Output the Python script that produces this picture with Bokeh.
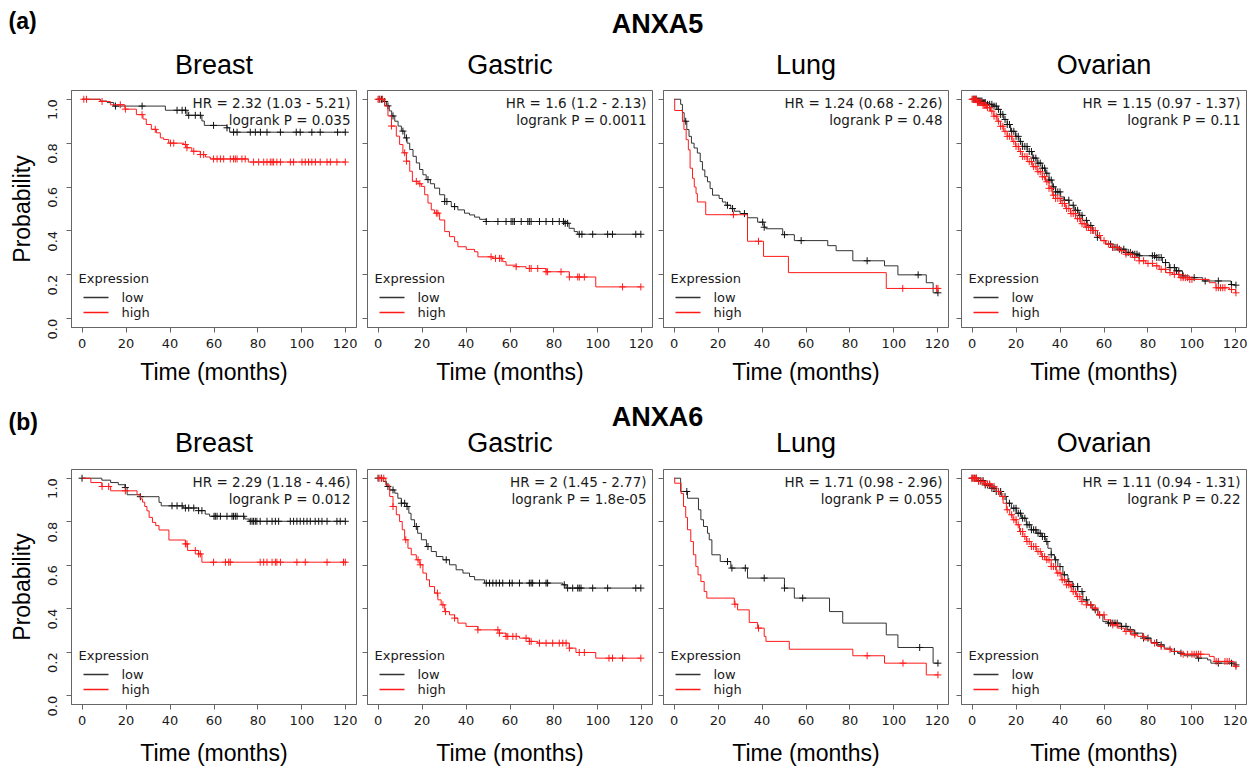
import math
import numpy as np
from bokeh.plotting import figure
from bokeh.layouts import column, row
from bokeh.models import (Range1d, FixedTicker, Label, NumeralTickFormatter, CustomJSTickFormatter)
from bokeh.core.properties import value
from bokeh.embed import file_html
from bokeh.resources import INLINE

# ---------------- text ----------------
TISSUES = ["Breast", "Gastric", "Lung", "Ovarian"]
GENES = ["ANXA5", "ANXA6"]
TAGS = ["(a)", "(b)"]
X_TICKS = [0, 20, 40, 60, 80, 100, 120]
Y_TICKS = [0.0, 0.2, 0.4, 0.6, 0.8, 1.0]
LEGEND_TITLE = "Expression"
GROUPS = ["low", "high"]
HR_A = ["HR = 2.32 (1.03 - 5.21)", "HR = 1.6 (1.2 - 2.13)", "HR = 1.24 (0.68 - 2.26)", "HR = 1.15 (0.97 - 1.37)"]
P_A = ["logrank P = 0.035", "logrank P = 0.0011", "logrank P = 0.48", "logrank P = 0.11"]
HR_B = ["HR = 2.29 (1.18 - 4.46)", "HR = 2 (1.45 - 2.77)", "HR = 1.71 (0.98 - 2.96)", "HR = 1.11 (0.94 - 1.31)"]
P_B = ["logrank P = 0.012", "logrank P = 1.8e-05", "logrank P = 0.055", "logrank P = 0.22"]

# ---------------- ANXA5 / Breast ----------------
A_BREAST_LOW_T = [0, 8.3, 11.4, 14.4, 37.9, 47.7, 54.5, 55.6, 65.9, 67.1]
A_BREAST_LOW_S = [1.0, 0.992, 0.985, 0.969, 0.95, 0.927, 0.901, 0.881, 0.87, 0.85]
A_BREAST_LOW_C = [15.2, 27.3, 43.2, 45.5, 47, 48.5, 51.5, 53.8, 59.8, 65.9, 68.9, 70.5, 76.5, 78.8, 81.1, 84.1,
                  90.2, 97.4, 99.2, 104.5, 108.3, 116.2, 119.7]
A_BREAST_HIGH_T = [0, 8.3, 12.9, 19.5, 24.7, 27.7, 29.2, 31.5, 33.8, 35.6, 37.1, 39.4, 46.2, 47.7, 49.9, 53.8,
                   56.1, 58.3, 75.6]
A_BREAST_HIGH_S = [1.0, 0.99, 0.975, 0.955, 0.93, 0.91, 0.885, 0.863, 0.847, 0.824, 0.817, 0.80, 0.794, 0.779,
                   0.763, 0.748, 0.737, 0.728, 0.714]
A_BREAST_HIGH_C = [0.8, 2.0, 9.1, 17.4, 19.7, 27.3, 33.3, 40.2, 41.7, 47.0, 47.7, 50.8, 53.8, 55.3, 59.8, 61.4,
                   62.9, 64.4, 67.4, 68.9, 69.7, 70.5, 72.7, 74.2, 78.0, 80.3, 82.6, 84.1, 85.6, 86.4, 87.1, 88.6,
                   90.2, 94.7, 96.2, 100, 101.5, 103, 104.5, 106.1, 108.3, 111.4, 112.9, 115.9, 119.7]

# ---------------- ANXA5 / Gastric ----------------
A_GASTRIC_LOW_T = [0, 2.3, 3.8, 5.1, 6.2, 7.6, 9.1, 10.6, 12.1, 13.2, 14.4, 15.9, 17.4, 18.9, 20.4, 21.9, 23.8,
                   25.7, 28.0, 30.3, 33.3, 36.3, 39.3, 41.6, 43.9, 46.2, 49.2, 84.5, 86.9, 89.2, 90.8]
A_GASTRIC_LOW_S = [1.0, 0.99, 0.97, 0.947, 0.924, 0.90, 0.878, 0.855, 0.824, 0.80, 0.771, 0.74, 0.71, 0.68,
                   0.656, 0.634, 0.615, 0.595, 0.565, 0.534, 0.511, 0.496, 0.481, 0.473, 0.463, 0.453, 0.443,
                   0.435, 0.412, 0.397, 0.385]
A_GASTRIC_LOW_C = [0.5, 1.5, 3.0, 4.5, 6.8, 11.3, 12.9, 22.7, 30.3, 31.3, 34.8, 49.2, 54.5, 58.2, 60.5, 61.3,
                   62.0, 65.1, 68.1, 68.8, 69.6, 73.4, 76.4, 79.4, 82.4, 84.3, 85.1, 86.2, 91.5, 92.7, 97.6,
                   104.4, 106.6, 117.2, 119.5]
A_GASTRIC_HIGH_T = [0, 3.0, 4.5, 6.1, 8.3, 9.8, 11.3, 12.9, 14.4, 15.6, 18.2, 19.7, 21.2, 22.7, 24.2, 25.7,
                    28.0, 30.3, 32.5, 34.8, 36.3, 40.1, 43.9, 45.4, 52.2, 56.7, 58.2, 62.8, 67.3, 76.4, 87.0, 99.0]
A_GASTRIC_HIGH_S = [1.0, 0.97, 0.924, 0.878, 0.832, 0.794, 0.756, 0.718, 0.672, 0.626, 0.615, 0.603, 0.565,
                    0.527, 0.496, 0.481, 0.45, 0.397, 0.374, 0.351, 0.328, 0.316, 0.305, 0.282, 0.275, 0.26,
                    0.244, 0.237, 0.229, 0.214, 0.19, 0.145]
A_GASTRIC_HIGH_C = [0.0, 0.8, 2.0, 6.1, 12.1, 12.9, 17.4, 19.0, 26.5, 27.2, 51.4, 53.4, 55.2, 56.0, 62.8, 68.8,
                    69.6, 72.6, 76.4, 77.1, 83.2, 87.0, 90.8, 91.5, 93.8, 111.2, 119.5]

# ---------------- ANXA5 / Lung ----------------
A_LUNG_LOW_T = [0, 3.0, 3.8, 4.6, 5.8, 6.8, 7.9, 9.1, 10.6, 11.9, 12.9, 14.0, 15.2, 16.4, 17.5, 20.5, 22.0,
                23.6, 25.8, 27.4, 30.0, 33.4, 38.0, 41.0, 41.8, 49.4, 54.7, 69.9, 73.7, 81.3, 95.7, 101.8,
                114.7, 117.8]
A_LUNG_LOW_S = [1.0, 0.977, 0.939, 0.90, 0.862, 0.831, 0.80, 0.778, 0.755, 0.716, 0.678, 0.647, 0.624, 0.593,
                0.563, 0.548, 0.532, 0.517, 0.502, 0.49, 0.479, 0.46, 0.44, 0.417, 0.41, 0.383, 0.356, 0.333,
                0.31, 0.264, 0.241, 0.20, 0.164, 0.118]
A_LUNG_LOW_C = [5.3, 24.3, 26.6, 32.0, 40.3, 41.0, 50.2, 57.8, 87.8, 111.0, 120.0]
A_LUNG_HIGH_T = [0, 0.3, 3.8, 4.5, 5.5, 6.5, 7.3, 8.4, 9.2, 10.0, 10.6, 14.4, 33.4, 40.7, 52.0, 96.5]
A_LUNG_HIGH_S = [1.0, 0.949, 0.90, 0.862, 0.816, 0.77, 0.686, 0.64, 0.60, 0.57, 0.532, 0.474, 0.353, 0.284,
                 0.21, 0.138]
A_LUNG_HIGH_C = [27.0, 38.4, 104.0, 119.3, 120.0]

# ---------------- ANXA5 / Ovarian ----------------
A_OVARIAN_LOW_T = [0, 2.3, 4.6, 6.8, 9.1, 11.4, 12.9, 14.4, 16.0, 17.5, 19.8, 21.3, 22.8, 25.1, 27.4, 29.6,
                   31.9, 33.4, 35.0, 36.5, 38.0, 40.3, 41.8, 44.1, 46.4, 48.6, 50.2, 52.4, 54.7, 57.0, 58.5,
                   60.8, 63.8, 66.9, 69.9, 72.9, 76.0, 83.6, 86.6, 89.7, 92.7, 95.7, 98.8, 104.9, 117.8, 119.3]
A_OVARIAN_LOW_S = [1.0, 0.992, 0.985, 0.977, 0.969, 0.954, 0.931, 0.908, 0.885, 0.854, 0.831, 0.808, 0.785,
                   0.762, 0.732, 0.709, 0.686, 0.663, 0.632, 0.601, 0.578, 0.555, 0.54, 0.517, 0.494, 0.471,
                   0.448, 0.425, 0.402, 0.371, 0.356, 0.34, 0.325, 0.317, 0.302, 0.294, 0.287, 0.279, 0.256,
                   0.233, 0.218, 0.195, 0.187, 0.172, 0.156, 0.153]
A_OVARIAN_LOW_C = [0.5, 1, 1.5, 2, 2.5, 3, 3.5, 4, 4.5, 5, 5.5, 6, 7, 8, 9, 10, 11, 12, 13, 14, 15, 16, 17, 18,
                   19, 20, 21, 22, 23, 24, 25, 26, 27, 28, 29, 30, 31, 32, 33, 34, 35, 36, 37, 38, 39, 40, 42,
                   44, 46, 47, 48, 49, 50, 52, 54, 55, 57, 63, 64, 65, 66, 67, 69, 70, 71, 72, 73, 74, 75, 76,
                   82, 83, 84, 85, 86, 88, 90, 92, 93, 94, 96, 101, 106, 112, 118, 120]
A_OVARIAN_HIGH_T = [0, 2.3, 4.6, 6.8, 8.4, 9.9, 11.4, 12.9, 14.4, 16.0, 18.2, 19.8, 21.3, 22.8, 25.1, 27.4,
                    29.6, 31.9, 33.4, 35.0, 36.5, 38.0, 40.3, 42.6, 44.8, 47.1, 49.4, 51.7, 54.0, 56.2, 58.5,
                    60.8, 63.8, 66.9, 69.9, 72.9, 76.0, 79.0, 82.1, 85.1, 88.1, 91.2, 94.2, 98.8, 107.9, 110.9,
                    117.0, 119.8]
A_OVARIAN_HIGH_S = [1.0, 0.985, 0.972, 0.962, 0.946, 0.923, 0.90, 0.877, 0.854, 0.831, 0.808, 0.785, 0.762,
                    0.739, 0.716, 0.693, 0.67, 0.647, 0.624, 0.594, 0.563, 0.548, 0.525, 0.502, 0.479, 0.456,
                    0.433, 0.417, 0.402, 0.379, 0.356, 0.34, 0.325, 0.31, 0.294, 0.279, 0.264, 0.252, 0.241,
                    0.225, 0.21, 0.202, 0.187, 0.179, 0.164, 0.141, 0.133, 0.118]
A_OVARIAN_HIGH_C = [0, 0.5, 1, 1.5, 2, 2.5, 3, 3.5, 4, 4.5, 5, 5.5, 6, 6.5, 7, 8, 9, 10, 11, 12, 13, 14, 15, 16,
                    17, 18, 19, 20, 21, 22, 23, 24, 25, 26, 27, 28, 29, 30, 31, 32, 33, 34, 35, 36, 37, 38, 39,
                    40, 41, 42, 43, 44, 45, 46, 47, 48, 49, 50, 51, 52, 53, 54, 55, 56, 58, 60, 62, 64, 66, 68,
                    70, 72, 74, 76, 78, 80, 82, 84, 86, 88, 90, 92, 94, 95, 96, 97, 98, 99, 100, 111, 112, 113,
                    114, 115, 118, 120]

# ---------------- ANXA6 / Breast ----------------
B_BREAST_LOW_T = [0, 9, 13, 16.5, 19.5, 20.5, 26.5, 35, 36, 46, 53, 56, 58, 74, 76]
B_BREAST_LOW_S = [1.0, 0.991, 0.98, 0.97, 0.957, 0.924, 0.915, 0.889, 0.873, 0.863, 0.851, 0.835, 0.825,
                  0.8125, 0.802]
B_BREAST_LOW_C = [0, 19.7, 26.5, 40.9, 43.2, 45.5, 47, 48.5, 50.8, 53, 54.5, 60, 60.6, 61.4, 62.9, 65.9, 68.2,
                  68.9, 69.7, 70.5, 73.5, 76.5, 77.3, 78, 78.8, 79.5, 81, 84.1, 86.4, 87.9, 89.4, 94.7, 96.2,
                  97.7, 99.2, 100.8, 102.3, 103.8, 106, 107.6, 109.1, 111.4, 115.9, 117.4, 119.7]
B_BREAST_HIGH_T = [0, 4, 9, 13, 25, 26.5, 27.5, 28.5, 29.5, 30.5, 32, 33.5, 35, 39.5, 47, 48, 53, 54.5]
B_BREAST_HIGH_S = [1.0, 0.98, 0.962, 0.942, 0.924, 0.905, 0.89, 0.87, 0.85, 0.82, 0.797, 0.782, 0.762, 0.716,
                   0.698, 0.668, 0.652, 0.614]
B_BREAST_HIGH_C = [9.1, 12.1, 19.7, 47, 47.7, 51.5, 53, 53.8, 59.8, 65.2, 66.7, 67.4, 81, 82.6, 84.1, 86.4,
                   87.9, 88.6, 90.2, 97.7, 101.5, 111.4, 118.9, 119.7]

# ---------------- ANXA6 / Gastric ----------------
B_GASTRIC_LOW_T = [0, 2.3, 3.8, 5.3, 7.6, 9.0, 10.6, 12.9, 14.0, 15.0, 16.6, 18.0, 19.7, 22.0, 24.2, 26.5,
                   29.5, 32.5, 35.5, 38.6, 41.6, 43.9, 48.4, 84.0, 85.5]
B_GASTRIC_LOW_S = [1.0, 0.985, 0.962, 0.946, 0.931, 0.908, 0.885, 0.87, 0.839, 0.809, 0.778, 0.747, 0.717,
                   0.686, 0.663, 0.64, 0.625, 0.602, 0.579, 0.564, 0.548, 0.533, 0.518, 0.51, 0.495]
B_GASTRIC_LOW_C = [0, 1.5, 4.5, 6.8, 10.6, 12.1, 13.2, 17.4, 22.7, 31.0, 49.2, 50.7, 52.2, 53.7, 55.2, 56.7,
                   59.8, 61.0, 64.3, 68.8, 69.6, 70.3, 73.4, 76.4, 77.1, 84.7, 86.2, 88.5, 90.8, 91.5, 92.3,
                   97.6, 104.4, 117.2, 119.5]
B_GASTRIC_HIGH_T = [0, 3.5, 5.3, 6.8, 8.3, 9.8, 11.0, 12.1, 13.6, 15.1, 17.4, 19.0, 20.4, 22.0, 23.4, 25.7,
                    27.2, 28.7, 30.3, 32.5, 34.8, 36.3, 40.0, 45.4, 55.2, 58.2, 64.3, 68.8, 72.6, 87.0, 90.0, 99.0]
B_GASTRIC_HIGH_S = [1.0, 0.969, 0.916, 0.87, 0.832, 0.801, 0.763, 0.717, 0.678, 0.648, 0.625, 0.602, 0.564,
                    0.533, 0.502, 0.472, 0.441, 0.418, 0.387, 0.372, 0.357, 0.334, 0.319, 0.303, 0.288, 0.273,
                    0.265, 0.25, 0.242, 0.219, 0.199, 0.173]
B_GASTRIC_HIGH_C = [0.5, 1.5, 2.6, 6.8, 12.6, 18.2, 19.2, 27.0, 29.5, 30.7, 34.8, 45.4, 54.5, 55.2, 58.2, 59.0,
                    61.3, 62.8, 67.3, 68.8, 69.6, 73.4, 76.4, 79.4, 82.4, 84.0, 85.5, 87.0, 91.5, 93.8, 105.0,
                    106.6, 111.2, 119.5]

# ---------------- ANXA6 / Lung ----------------
B_LUNG_LOW_T = [0, 3.0, 6.1, 11.1, 12.2, 13.4, 15.2, 16.0, 17.2, 21.0, 25.8, 33.4, 50.2, 54.7, 70.7, 76.7,
                96.5, 101.8, 117.8]
B_LUNG_LOW_S = [1.0, 0.939, 0.908, 0.855, 0.809, 0.778, 0.747, 0.717, 0.648, 0.617, 0.587, 0.541, 0.495, 0.449,
                0.387, 0.334, 0.28, 0.222, 0.15]
B_LUNG_LOW_C = [5.8, 24.3, 26.3, 32.4, 41.0, 50.2, 58.5, 111.7, 120.0]
B_LUNG_HIGH_T = [0, 0.3, 3.2, 4.3, 5.3, 6.1, 7.6, 8.8, 9.9, 10.9, 12.2, 13.7, 14.9, 27.4, 28.9, 34.2, 38.0,
                 41.0, 41.8, 52.4, 81.3, 95.7, 114.7]
B_LUNG_HIGH_S = [1.0, 0.977, 0.93, 0.87, 0.82, 0.763, 0.709, 0.648, 0.594, 0.556, 0.525, 0.479, 0.449, 0.421,
                 0.395, 0.337, 0.311, 0.273, 0.25, 0.214, 0.184, 0.15, 0.096]
B_LUNG_HIGH_C = [27.7, 38.4, 87.8, 104.1, 120.0]

# ---------------- ANXA6 / Ovarian ----------------
B_OVARIAN_LOW_T = [0, 2.7, 5.7, 8.8, 11.0, 13.3, 15.6, 17.9, 20.1, 22.4, 24.7, 26.9, 29.2, 31.5, 33.3, 34.5,
                   36.0, 37.5, 39.0, 41.3, 43.6, 45.8, 48.1, 50.4, 52.6, 54.9, 57.2, 59.5, 61.7, 67.8, 70.8,
                   73.8, 77.6, 81.4, 84.4, 87.4, 90.5, 93.5, 96.5, 102.6, 107.1, 108.6, 119.5]
B_OVARIAN_LOW_S = [1.0, 0.989, 0.969, 0.954, 0.939, 0.916, 0.885, 0.862, 0.839, 0.816, 0.786, 0.763, 0.747,
                   0.732, 0.709, 0.678, 0.648, 0.625, 0.594, 0.556, 0.525, 0.502, 0.479, 0.441, 0.418, 0.395,
                   0.372, 0.341, 0.334, 0.319, 0.303, 0.288, 0.265, 0.245, 0.234, 0.219, 0.204, 0.196, 0.184,
                   0.173, 0.165, 0.15, 0.142]
B_OVARIAN_LOW_C = [0, 1, 2, 3, 4, 5, 6, 7, 8, 9, 10, 11, 12, 13, 15, 17, 19, 20, 21, 22, 23, 24, 25, 26, 27,
                   28, 29, 30, 31, 32, 33, 34, 36, 38, 40, 42, 44, 46, 48, 50, 52, 54, 56, 58, 62, 63, 64, 65,
                   66, 68, 70, 72, 74, 78, 80, 84, 86, 92, 95, 103, 112, 118, 120]
B_OVARIAN_HIGH_T = [0, 2.7, 5.7, 8.8, 11.0, 12.6, 14.1, 15.6, 17.1, 18.6, 20.1, 21.6, 23.1, 24.7, 26.9, 29.2,
                    31.5, 33.7, 36.0, 38.3, 40.5, 42.8, 45.1, 47.4, 49.6, 51.9, 54.2, 57.2, 60.2, 63.2, 66.3,
                    69.3, 72.3, 75.3, 78.4, 81.4, 84.4, 87.4, 90.5, 95.0, 107.9, 110.1, 119.2]
B_OVARIAN_HIGH_S = [1.0, 0.985, 0.974, 0.962, 0.939, 0.916, 0.885, 0.855, 0.832, 0.809, 0.786, 0.755, 0.732,
                    0.709, 0.686, 0.663, 0.64, 0.625, 0.594, 0.564, 0.533, 0.51, 0.479, 0.456, 0.433, 0.418,
                    0.403, 0.372, 0.349, 0.326, 0.311, 0.296, 0.28, 0.273, 0.257, 0.242, 0.227, 0.214, 0.204,
                    0.191, 0.181, 0.158, 0.135]
B_OVARIAN_HIGH_C = [0, 0.5, 1, 1.5, 2, 3, 4, 5, 6, 7, 8, 9, 10, 12, 14, 16, 18, 19, 20, 21, 22, 23, 24, 25, 26,
                    27, 28, 29, 30, 31, 32, 33, 34, 35, 36, 37, 38, 39, 40, 41, 42, 43, 44, 45, 46, 47, 48, 49,
                    50, 52, 54, 56, 58, 60, 64, 66, 70, 72, 74, 78, 83, 86, 90, 96, 98, 100, 101, 102, 103,
                    104, 111, 112, 115, 116, 117, 120]

# ---------------- styling / layout ----------------
LOW_LINE = "#333333"
LOW_MARK = "#111111"
HIGH_COLOR = "#ff1a1a"
AXIS_COLOR = "#666666"
TEXT_COLOR = "#1a1a1a"
SANS = "Liberation Sans"
DEJAVU = "DejaVu Sans"
FRAME_W = 285
LEFT_BORDERS = [71, 10, 10, 12]
TOTAL_W = sum(LEFT_BORDERS) + 4 * (FRAME_W + 1)
X_START, X_END = -4.8, 124.8
Y_START, Y_END = -0.04, 1.04


def frame_centers():
    out, x0 = [], 0
    for lb in LEFT_BORDERS:
        out.append(x0 + lb + FRAME_W / 2)
        x0 += lb + FRAME_W + 1
    return out


def surv_at(times, surv, t):
    idx = np.searchsorted(np.asarray(times), t, side="right") - 1
    return [surv[max(i, 0)] for i in np.atleast_1d(idx)]


def step_path(times, surv, end):
    xs, ys = [times[0]], [surv[0]]
    for k in range(1, len(times)):
        xs += [times[k], times[k]]
        ys += [surv[k - 1], surv[k]]
    xs.append(end)
    ys.append(surv[-1])
    return xs, ys


def add_curve(p, times, surv, cens, line_color, mark_color):
    end = max(max(cens), times[-1])
    xs, ys = step_path(list(times), list(surv), end)
    p.line(xs, ys, line_color=line_color, line_width=1)
    p.scatter(cens, surv_at(times, surv, cens), marker="cross", size=7,
              line_color=mark_color, line_width=1)


def make_panel(i, low, high, hr, pv, top, frame_h, bottom, xlab_standoff):
    first = i == 0
    p = figure(width=LEFT_BORDERS[i] + FRAME_W + 1, height=top + frame_h + bottom,
               x_range=Range1d(X_START, X_END), y_range=Range1d(Y_START, Y_END),
               output_backend="svg", toolbar_location=None,
               min_border_left=LEFT_BORDERS[i], min_border_right=1,
               min_border_top=top, min_border_bottom=bottom)
    p.xgrid.visible = False
    p.ygrid.visible = False
    p.outline_line_color = AXIS_COLOR
    p.outline_line_width = 1
    for ax in (p.xaxis[0], p.yaxis[0]):
        ax.axis_line_color = AXIS_COLOR
        ax.major_tick_line_color = AXIS_COLOR
        ax.minor_tick_line_color = None
        ax.major_tick_out = 5
        ax.major_tick_in = 0
        ax.major_label_text_font = DEJAVU
        ax.major_label_text_font_size = "13px"
        ax.major_label_text_color = TEXT_COLOR
        ax.axis_label_text_font = SANS
        ax.axis_label_text_font_size = "23px"
        ax.axis_label_text_font_style = "normal"
        ax.axis_label_text_color = "#000000"
    p.xaxis.ticker = FixedTicker(ticks=X_TICKS)
    p.xaxis.major_label_standoff = 6
    p.xaxis.axis_label = "Time (months)"
    p.xaxis.axis_label_standoff = xlab_standoff
    p.yaxis.ticker = FixedTicker(ticks=Y_TICKS)
    if first:
        p.yaxis.formatter = NumeralTickFormatter(format="0.0")
        p.yaxis.major_label_orientation = math.pi / 2
        p.yaxis.major_label_standoff = 14
        p.yaxis.axis_label = "Probability"
        p.yaxis.axis_label_standoff = 6
    else:
        p.yaxis.formatter = CustomJSTickFormatter(code="return ''")
        p.yaxis.major_label_standoff = 0

    add_curve(p, *low, LOW_LINE, LOW_MARK)
    add_curve(p, *high, HIGH_COLOR, HIGH_COLOR)

    # legend (R style): title, then two line swatches with labels
    px_y = (Y_END - Y_START) / frame_h
    px_x = (X_END - X_START) / FRAME_W
    p.add_layout(Label(x=X_START + 7 * px_x, y=Y_START + 49 * px_y, text=LEGEND_TITLE,
                       text_align="left", text_baseline="middle",
                       text_font=DEJAVU, text_font_size="13px", text_color=TEXT_COLOR))
    sw_x = [X_START + 12 * px_x, X_START + 37 * px_x]
    for lab, off, col in zip(GROUPS, (30, 15), (LOW_LINE, HIGH_COLOR)):
        yy = Y_START + off * px_y
        p.line(sw_x, [yy, yy], line_color=col, line_width=1.6)
        p.add_layout(Label(x=X_START + 50 * px_x, y=yy, text=lab, text_align="left",
                           text_baseline="middle", text_font=DEJAVU, text_font_size="13px",
                           text_color=TEXT_COLOR))

    for txt, off in ((hr, 12), (pv, 29)):
        p.add_layout(Label(x=X_END - 6 * px_x, y=Y_END - off * px_y, text=txt, text_align="right",
                           text_baseline="middle", text_font=DEJAVU, text_font_size="13.5px",
                           text_color=TEXT_COLOR))
    return p


def make_strip(tag, gene, height, y_tag, y_gene, y_titles):
    h = figure(width=TOTAL_W, height=height, x_range=Range1d(0, TOTAL_W), y_range=Range1d(height, 0),
               output_backend="svg", toolbar_location=None, x_axis_location=None,
               y_axis_location=None, min_border=0)
    h.outline_line_color = None
    h.xgrid.visible = False
    h.ygrid.visible = False
    h.text(x=[8], y=[y_tag], text=[tag], text_align="left", text_baseline="middle",
           text_font=value(SANS), text_font_style=value("bold"), text_font_size=value("23px"),
           text_color="#000000")
    h.text(x=[657], y=[y_gene], text=[gene], text_align="center", text_baseline="middle",
           text_font=value(SANS), text_font_style=value("bold"), text_font_size=value("27px"),
           text_color="#000000")
    h.text(x=frame_centers(), y=[y_titles] * len(TISSUES), text=TISSUES, text_align="center",
           text_baseline="middle", text_font=value(SANS), text_font_size=value("27px"),
           text_color="#000000")
    return h


A_DATA = [
    ((A_BREAST_LOW_T, A_BREAST_LOW_S, A_BREAST_LOW_C), (A_BREAST_HIGH_T, A_BREAST_HIGH_S, A_BREAST_HIGH_C)),
    ((A_GASTRIC_LOW_T, A_GASTRIC_LOW_S, A_GASTRIC_LOW_C), (A_GASTRIC_HIGH_T, A_GASTRIC_HIGH_S, A_GASTRIC_HIGH_C)),
    ((A_LUNG_LOW_T, A_LUNG_LOW_S, A_LUNG_LOW_C), (A_LUNG_HIGH_T, A_LUNG_HIGH_S, A_LUNG_HIGH_C)),
    ((A_OVARIAN_LOW_T, A_OVARIAN_LOW_S, A_OVARIAN_LOW_C), (A_OVARIAN_HIGH_T, A_OVARIAN_HIGH_S, A_OVARIAN_HIGH_C)),
]
B_DATA = [
    ((B_BREAST_LOW_T, B_BREAST_LOW_S, B_BREAST_LOW_C), (B_BREAST_HIGH_T, B_BREAST_HIGH_S, B_BREAST_HIGH_C)),
    ((B_GASTRIC_LOW_T, B_GASTRIC_LOW_S, B_GASTRIC_LOW_C), (B_GASTRIC_HIGH_T, B_GASTRIC_HIGH_S, B_GASTRIC_HIGH_C)),
    ((B_LUNG_LOW_T, B_LUNG_LOW_S, B_LUNG_LOW_C), (B_LUNG_HIGH_T, B_LUNG_HIGH_S, B_LUNG_HIGH_C)),
    ((B_OVARIAN_LOW_T, B_OVARIAN_LOW_S, B_OVARIAN_LOW_C), (B_OVARIAN_HIGH_T, B_OVARIAN_HIGH_S, B_OVARIAN_HIGH_C)),
]

strip_a = make_strip(TAGS[0], GENES[0], 84, 20, 23, 64)
panels_a = [make_panel(i, A_DATA[i][0], A_DATA[i][1], HR_A[i], P_A[i], 6, 237, 64, 8) for i in range(4)]
strip_b = make_strip(TAGS[1], GENES[1], 72, 30, 25, 51)
panels_b = [make_panel(i, B_DATA[i][0], B_DATA[i][1], HR_B[i], P_B[i], 6, 235, 65, 12) for i in range(4)]

layout = column(strip_a, row(*panels_a), strip_b, row(*panels_b))

open("out.html", "w").write(file_html(layout, INLINE))
